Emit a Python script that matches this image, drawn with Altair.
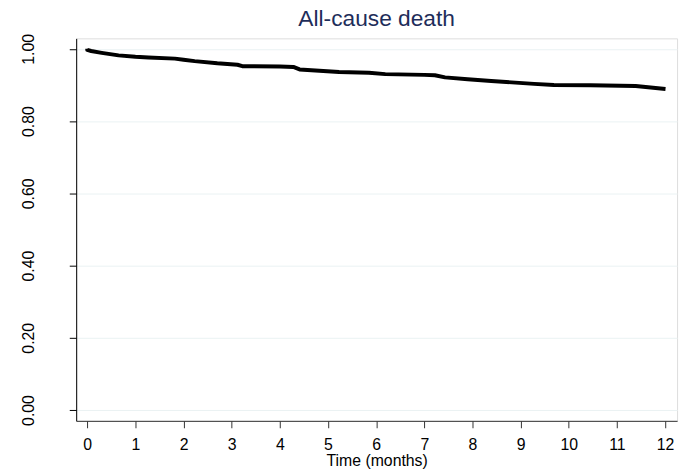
import altair as alt
import pandas as pd

# Kaplan-Meier survival estimate
time_months = [0.0, 0.0, 0.08, 0.3, 0.65, 1.0, 1.27, 1.82, 2.0, 2.23, 2.70, 3.12, 3.22,
               4.0, 4.28, 4.41, 5.23, 5.85, 6.19, 7.0, 7.22, 7.43, 7.90, 8.39,
               9.28, 9.69, 10.45, 11.39, 12.01]
survival = [1.000, 0.997, 0.994, 0.989, 0.982, 0.978, 0.976, 0.973, 0.970, 0.966, 0.960,
            0.956, 0.952, 0.951, 0.950, 0.943, 0.936, 0.934, 0.930, 0.928, 0.927,
            0.921, 0.916, 0.911, 0.903, 0.900, 0.899, 0.897, 0.889]

y_ticks = [0.0, 0.2, 0.4, 0.6, 0.8, 1.0]
x_ticks = list(range(0, 13))

df = pd.DataFrame({"t": time_months, "s": survival, "order": list(range(len(time_months)))})

FONT = "Liberation Sans"

chart = alt.Chart(df).mark_line(color="black", strokeWidth=4, strokeCap="butt", strokeJoin="round").encode(
    x=alt.X("t:Q",
            scale=alt.Scale(domain=[-0.23, 12.25], nice=False, zero=False),
            axis=alt.Axis(values=x_ticks, title="Time (months)", grid=False,
                          domainColor="#333333", tickColor="#333333",
                          tickSize=7, labelPadding=9, labelFontSize=16,
                          labelFont=FONT, labelColor="black",
                          titleFont=FONT, titleFontSize=16, titleFontWeight="normal",
                          titleColor="black", titlePadding=0, labelFlush=False)),
    y=alt.Y("s:Q",
            scale=alt.Scale(domain=[-0.03, 1.029], nice=False, zero=False),
            axis=alt.Axis(values=y_ticks, format=".2f", title=None, grid=True,
                          gridColor="#eaf2f3", gridWidth=1,
                          domainColor="black", tickColor="black", tickSize=7,
                          labelAngle=270, labelAlign="center", labelBaseline="bottom",
                          labelPadding=33, labelFontSize=16, labelFont=FONT,
                          labelColor="black", labelFlush=False)),
    order="order:Q",
).properties(
    width=608,
    height=387,
    title=alt.TitleParams("All-cause death", font=FONT, fontSize=23, fontWeight="normal",
                          color="#1e2d5a", anchor="middle", frame="group", offset=3),
    autosize=alt.AutoSizeParams(type="none"),
    padding={"left": 69, "top": 28, "right": 6, "bottom": 47},
).configure_view(stroke=None).configure(background="white")

chart.save("out.html", embed_options={"renderer": "svg", "actions": False})
